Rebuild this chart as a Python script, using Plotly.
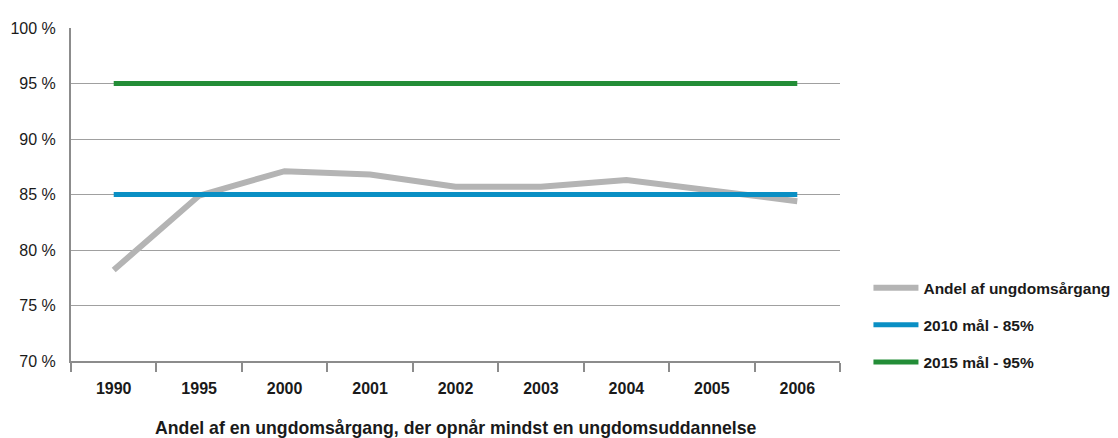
import plotly.graph_objects as go

categories = ["1990", "1995", "2000", "2001", "2002", "2003", "2004", "2005", "2006"]
andel = [78.2, 84.9, 87.1, 86.8, 85.7, 85.7, 86.3, 85.3, 84.4]
maal_2010 = [85, 85, 85, 85, 85, 85, 85, 85, 85]
maal_2015 = [95, 95, 95, 95, 95, 95, 95, 95, 95]
y_ticks = [70, 75, 80, 85, 90, 95, 100]
y_tick_labels = [f"{v} %" for v in y_ticks]
x_title = "Andel af en ungdomsårgang, der opnår mindst en ungdomsuddannelse"

FONT = "Liberation Sans, Arial, Helvetica, sans-serif"
TXT = "#1a1a1a"

fig = go.Figure()
fig.add_trace(go.Scatter(x=categories, y=andel, mode="lines", name="Andel af ungdomsårgang",
                         line=dict(color="#b4b4b4", width=6), legendgroup="a"))
fig.add_trace(go.Scatter(x=categories, y=maal_2010, mode="lines", name="2010 mål - 85%",
                         line=dict(color="#0a8fc4", width=5), legendgroup="b"))
fig.add_trace(go.Scatter(x=categories, y=maal_2015, mode="lines", name="2015 mål - 95%",
                         line=dict(color="#238d37", width=5), legendgroup="c"))

# page body has an 8px margin, so the figure is offset by 8px
fig.update_layout(
    width=1110, height=430,
    margin=dict(l=63, r=278, t=20, b=77, autoexpand=False),
    paper_bgcolor="white", plot_bgcolor="white",
    font=dict(family=FONT, size=14, color=TXT),
    showlegend=True,
    legend=dict(x=1.037, xanchor="left", y=0.27, yanchor="top",
                font=dict(family=FONT, size=15.5, color=TXT, weight="bold"),
                tracegroupgap=14, itemwidth=45, bgcolor="rgba(0,0,0,0)"),
    annotations=[dict(text=x_title, xref="paper", yref="paper", x=0.5, y=-0.2,
                      xanchor="center", yanchor="middle", showarrow=False,
                      font=dict(family=FONT, size=17.7, color=TXT, weight="bold"))],
)
fig.update_xaxes(
    type="category", range=[-0.5, 8.5], automargin=False,
    showline=True, linecolor="#8c8c8c", linewidth=2,
    ticks="outside", tickson="boundaries", ticklen=9, tickwidth=2, tickcolor="#8c8c8c",
    showgrid=False, ticklabelstandoff=12,
    tickfont=dict(family=FONT, size=16, color=TXT, weight="bold"),
)
fig.update_yaxes(
    range=[70, 100], tickvals=y_ticks, ticktext=y_tick_labels, automargin=False,
    showline=True, linecolor="#8c8c8c", linewidth=2,
    showgrid=True, gridcolor="#a0a0a0", gridwidth=1,
    zeroline=False, ticks="", ticklabelstandoff=10,
    tickfont=dict(family=FONT, size=16, color=TXT),
)

fig.write_html("out.html")
